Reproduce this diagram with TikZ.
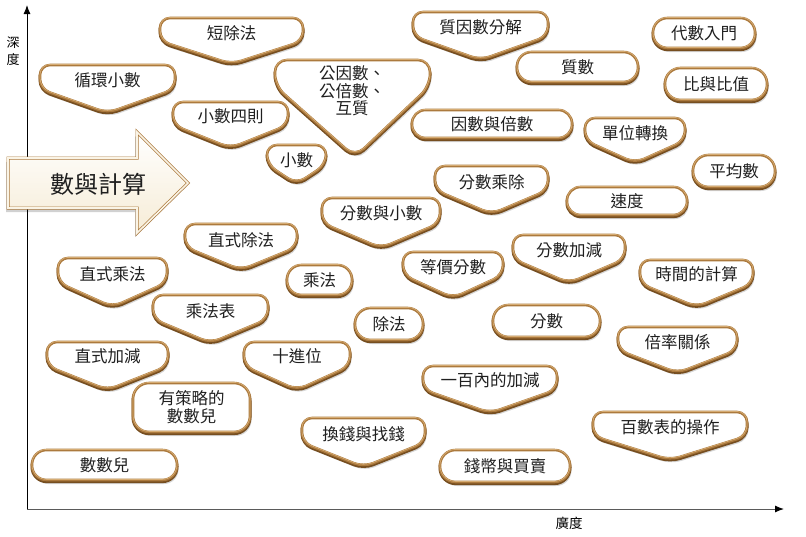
\documentclass[tikz,border=0pt]{standalone}
\usepackage{fontspec}
\newfontfamily\cjk{Noto Sans CJK TC}
\usetikzlibrary{arrows.meta}
\definecolor{brn}{RGB}{172,122,62}
\definecolor{brnd}{RGB}{118,78,32}
\definecolor{brnl}{RGB}{214,172,115}
\definecolor{cream}{RGB}{246,236,214}
\definecolor{axisgray}{RGB}{90,90,90}
\tikzset{
  shadowst/.style={fill=black, opacity=0.16, draw=none},
  rimdark/.style={draw=brnd, line width=3pt},
  rimst/.style={draw=brn, line width=2.6pt, fill=white},
  rimhi/.style={draw=brnl, line width=0.7pt},
  lbl/.style={font=\cjk\fontsize{16.5}{18}\selectfont, inner sep=0pt, text=black!88, align=center},
  axlbl/.style={font=\cjk\fontsize{13}{17}\selectfont, inner sep=0pt, align=center},
}
% chevron: name, L, R, T, B, text, text y
\newcommand{\Chev}[7]{%
  \pgfmathsetmacro\cx{(#2+#3)/2}%
  \pgfmathsetmacro\sy{#4+0.5*(#5-#4)}%
  \fill[shadowst, rounded corners=10pt, shift={(1.5,4)}] (\cx,#4) -- (#3,#4) -- (#3,\sy) -- (\cx,#5) -- (#2,\sy) -- (#2,#4) -- cycle;
  \draw[rimdark, rounded corners=10pt, shift={(0,1.6)}] (\cx,#4) -- (#3,#4) -- (#3,\sy) -- (\cx,#5) -- (#2,\sy) -- (#2,#4) -- cycle;
  \draw[rimst, rounded corners=10pt] (\cx,#4) -- (#3,#4) -- (#3,\sy) -- (\cx,#5) -- (#2,\sy) -- (#2,#4) -- cycle;
  \draw[rimhi, rounded corners=10pt, shift={(0,-0.6)}] (\cx,#4) -- (#3,#4) -- (#3,\sy) -- (\cx,#5) -- (#2,\sy) -- (#2,#4) -- cycle;
  \node[lbl] (#1) at (\cx,#7) {#6};
}
% pill: name, L, R, T, B, text
\newcommand{\Pill}[6]{%
  \pgfmathsetmacro\cx{(#2+#3)/2}%
  \pgfmathsetmacro\cy{(#4+#5)/2}%
  \pgfmathsetmacro\rr{min(16,(#5-#4)/2-0.5)}%
  \fill[shadowst, rounded corners=\rr pt, shift={(1.5,4)}] (#2,#4) rectangle (#3,#5);
  \draw[rimdark, rounded corners=\rr pt, shift={(0,1.6)}] (#2,#4) rectangle (#3,#5);
  \draw[rimst, rounded corners=\rr pt] (#2,#4) rectangle (#3,#5);
  \draw[rimhi, rounded corners=\rr pt, shift={(0,-0.6)}] (#2,#4) rectangle (#3,#5);
  \node[lbl] (#1) at (\cx,\cy) {#6};
}
\begin{document}
\begin{tikzpicture}[x=1pt,y=-1pt]
\useasboundingbox (0,0) rectangle (806,536);
\fill[white] (0,0) rectangle (806,536);
% axes
\coordinate (origin) at (27,509);
\coordinate (ytip) at (27,5);
\coordinate (xtip) at (784,509);
\draw[black, line width=1pt, -{Latex[length=9pt,width=7pt]}] (origin) -- (ytip);
\draw[axisgray, line width=1pt, -{Latex[length=9pt,width=7pt,color=black]}] (origin) -- (xtip);
\node[axlbl] (ylabel) at (13,51) {深\\度};
\node[axlbl, font=\cjk\fontsize{13.5}{17}\selectfont] (xlabel) at (569,523) {廣度};

% big arrow
\fill[black, opacity=0.18, shift={(-2,4)}] (8,158) -- (137,158) -- (137,132) -- (188,183) -- (137,233) -- (137,208) -- (8,208) -- cycle;
\shade[top color=white, bottom color=cream] (8,158) -- (137,158) -- (137,132) -- (188,183) -- (137,233) -- (137,208) -- (8,208) -- cycle;
\draw[draw=brn, line width=0.7pt, double=cream!60, double distance=1.6pt, line join=miter] (8,158) -- (137,158) -- (137,132) -- (188,183) -- (137,233) -- (137,208) -- (8,208) -- cycle;
\node[lbl, font=\cjk\fontsize{24}{26}\selectfont] (main) at (98,184) {數與計算};

% chevrons
\Chev{dcf}{160}{303}{18}{64}{短除法}{33}
\Chev{xhxs}{40}{175}{65}{113}{循環小數}{80}
\Chev{xssz}{173}{288}{102}{148}{小數四則}{116}
\Chev{xs}{267}{326}{145}{184}{小數}{160}
\Chev{zyfj}{413}{548}{12}{60}{質因數分解}{27}
\Chev{dwzh}{585}{685}{118}{163}{單位轉換}{133}
\Chev{fscc}{435}{548}{166}{214}{分數乘除}{182}
\Chev{fsyxs}{322}{440}{198}{248}{分數與小數}{213}
\Chev{zscf}{185}{297}{224}{270}{直式除法}{240}
\Chev{zscheng}{58}{167}{258}{307}{直式乘法}{274}
\Chev{djfs}{403}{503}{252}{298}{等價分數}{267}
\Chev{fsjj}{513}{625}{235}{283}{分數加減}{250}
\Chev{sjjs}{640}{753}{260}{307}{時間的計算}{274}
\Chev{cfb}{153}{268}{295}{343}{乘法表}{311}
\Chev{blgx}{618}{737}{327}{373}{倍率關係}{342}
\Chev{zsjj}{47}{168}{342}{390}{直式加減}{356}
\Chev{sjw}{244}{350}{342}{390}{十進位}{356}
\Chev{ybnjj}{423}{557}{366}{413}{一百內的加減}{380}
\Chev{hqyzq}{302}{425}{418}{467}{換錢與找錢}{434}
\Chev{bsbcz}{593}{747}{412}{460}{百數表的操作}{427}

% big triangle
\fill[shadowst, rounded corners=12pt, shift={(1.5,4)}] (352,60) -- (430,60) -- (430,86) -- (355,157) -- (275,86) -- (275,60) -- cycle;
\draw[rimdark, rounded corners=12pt, shift={(0,1.6)}] (352,60) -- (430,60) -- (430,86) -- (355,157) -- (275,86) -- (275,60) -- cycle;
\draw[rimst, rounded corners=12pt] (352,60) -- (430,60) -- (430,86) -- (355,157) -- (275,86) -- (275,60) -- cycle;
\draw[rimhi, rounded corners=12pt, shift={(0,-0.6)}] (352,60) -- (430,60) -- (430,86) -- (355,157) -- (275,86) -- (275,60) -- cycle;
\node[lbl, font=\cjk\fontsize{16.5}{17.5}\selectfont] (gys) at (352,91) {公因數、\\公倍數、\\互質};

% pills
\Pill{zs}{517}{638}{52}{82}{質數}
\Pill{dsrm}{653}{755}{18}{48}{代數入門}
\Pill{bybz}{665}{767}{68}{100}{比與比值}
\Pill{ysybs}{412}{572}{110}{138}{因數與倍數}
\Pill{pjs}{693}{775}{155}{187}{平均數}
\Pill{sd}{567}{687}{187}{215}{速度}
\Pill{cf}{287}{352}{265}{295}{乘法}
\Pill{chf}{355}{423}{308}{340}{除法}
\Pill{fs}{493}{600}{305}{337}{分數}
\Pill{ycl}{133}{250}{383}{432}{有策略的\\數數兒}
\Pill{qbmm}{440}{570}{450}{482}{錢幣與買賣}
\Pill{sse}{32}{177}{450}{480}{數數兒}
\end{tikzpicture}
\end{document}
